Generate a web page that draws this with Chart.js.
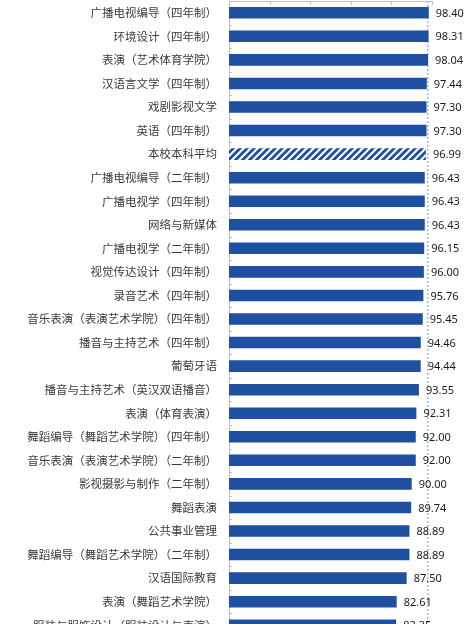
<!DOCTYPE html>
<html>
<head>
<meta charset="utf-8">
<script src="https://cdn.jsdelivr.net/npm/chart.js@4/dist/chart.umd.min.js"></script>
<style>
  html, body { margin: 0; padding: 0; background: #ffffff; overflow: hidden; width: 475px; height: 624px; }
  #c { position: absolute; left: 0; top: 0; }
</style>
</head>
<body>
<canvas id="c" width="475" height="640" style="width:475px;height:640px"></canvas>
<script>
const categories = [
  "广播电视编导（四年制）",
  "环境设计（四年制）",
  "表演（艺术体育学院）",
  "汉语言文学（四年制）",
  "戏剧影视文学",
  "英语（四年制）",
  "本校本科平均",
  "广播电视编导（二年制）",
  "广播电视学（四年制）",
  "网络与新媒体",
  "广播电视学（二年制）",
  "视觉传达设计（四年制）",
  "录音艺术（四年制）",
  "音乐表演（表演艺术学院）（四年制）",
  "播音与主持艺术（四年制）",
  "葡萄牙语",
  "播音与主持艺术（英汉双语播音）",
  "表演（体育表演）",
  "舞蹈编导（舞蹈艺术学院）（四年制）",
  "音乐表演（表演艺术学院）（二年制）",
  "影视摄影与制作（二年制）",
  "舞蹈表演",
  "公共事业管理",
  "舞蹈编导（舞蹈艺术学院）（二年制）",
  "汉语国际教育",
  "表演（舞蹈艺术学院）",
  "服装与服饰设计（服装设计与表演）"
];
const values = [
  98.40, 98.31, 98.04, 97.44, 97.30, 97.30, 96.99, 96.43, 96.43, 96.43,
  96.15, 96.00, 95.76, 95.45, 94.46, 94.44, 93.55, 92.31, 92.00, 92.00,
  90.00, 89.74, 88.89, 88.89, 87.50, 82.61, 82.35
];
const averageLabel = ["本校本科平均"];
const referenceValue = [97.9];
const axisRange = [0, 100];
const axisStep = [20];

const BLUE = "#1f4fa1";

function makeHatch() {
  const s = 7;
  const pc = document.createElement("canvas");
  pc.width = s; pc.height = s;
  const p = pc.getContext("2d");
  p.fillStyle = BLUE;
  p.fillRect(0, 0, s, s);
  p.strokeStyle = "#ffffff";
  p.lineWidth = 2.2;
  p.beginPath();
  for (let k = -1; k <= 1; k++) {
    p.moveTo(k * s - 1, s + 1);
    p.lineTo(k * s + s + 1, -1);
  }
  p.stroke();
  return document.getElementById("c").getContext("2d").createPattern(pc, "repeat");
}
const hatch = makeHatch();
const barColors = categories.map(c => averageLabel.includes(c) ? hatch : BLUE);

const extras = {
  id: "extras",
  beforeDatasetsDraw(chart) {
    const { ctx, chartArea, scales } = chart;
    const x = scales.x.getPixelForValue(referenceValue[0]);
    ctx.save();
    ctx.strokeStyle = "#9bbbe3";
    ctx.lineWidth = 1.5;
    ctx.setLineDash([2, 2]);
    ctx.beginPath();
    ctx.moveTo(x, chartArea.top);
    ctx.lineTo(x, chartArea.bottom);
    ctx.stroke();
    ctx.restore();
  },
  afterDatasetsDraw(chart) {
    const { ctx, chartArea, scales } = chart;
    ctx.save();
    ctx.strokeStyle = "#bfbfbf";
    ctx.lineWidth = 1;
    // top axis line
    ctx.beginPath();
    ctx.moveTo(chartArea.left, chartArea.top + 0.5);
    ctx.lineTo(scales.x.getPixelForValue(axisRange[1]), chartArea.top + 0.5);
    ctx.stroke();
    // inward tick marks on top axis
    scales.x.ticks.forEach((t, i) => {
      const px = Math.round(scales.x.getPixelForTick(i)) + 0.5;
      ctx.beginPath();
      ctx.moveTo(px, chartArea.top);
      ctx.lineTo(px, chartArea.top + 4);
      ctx.stroke();
    });
    // inward category boundary ticks on left axis
    const n = categories.length;
    const band = (chartArea.bottom - chartArea.top) / n;
    for (let i = 1; i <= n; i++) {
      const py = Math.round(scales.y.getPixelForValue(i - 1) + band / 2) + 0.5;
      ctx.beginPath();
      ctx.moveTo(chartArea.left, py);
      ctx.lineTo(chartArea.left + 3, py);
      ctx.stroke();
    }
    // value labels
    const meta = chart.getDatasetMeta(0);
    ctx.fillStyle = "#1a1a1a";
    ctx.font = "11px 'Noto Sans', 'DejaVu Sans', sans-serif";
    ctx.textAlign = "left";
    ctx.textBaseline = "middle";
    meta.data.forEach((bar, i) => {
      ctx.fillText(values[i].toFixed(2), bar.x + 7, bar.y + 1);
    });
    ctx.restore();
  }
};

new Chart(document.getElementById("c"), {
  type: "bar",
  data: {
    labels: categories,
    datasets: [{
      data: values,
      backgroundColor: barColors,
      borderWidth: 0,
      barPercentage: 0.49,
      categoryPercentage: 1.0
    }]
  },
  options: {
    indexAxis: "y",
    responsive: false,
    maintainAspectRatio: false,
    devicePixelRatio: 1,
    animation: false,
    layout: { padding: { top: 1, right: 43, bottom: 3, left: 0 } },
    plugins: { legend: { display: false }, tooltip: { enabled: false } },
    scales: {
      x: {
        display: false,
        min: axisRange[0],
        max: axisRange[1],
        ticks: { stepSize: axisStep[0] }
      },
      y: {
        position: "left",
        afterFit(scale) {
          scale.width = 229;
          scale.paddingTop = 0;
          scale.paddingBottom = 0;
        },
        ticks: {
          padding: 12,
          autoSkip: false,
          color: "#3a3a3a",
          font: { family: "'Noto Sans CJK SC', 'Noto Sans', sans-serif", size: 11.5 }
        },
        grid: { drawOnChartArea: false, drawTicks: false },
        border: { display: true, color: "#bfbfbf", width: 1 }
      }
    }
  },
  plugins: [extras]
});
</script>
</body>
</html>
